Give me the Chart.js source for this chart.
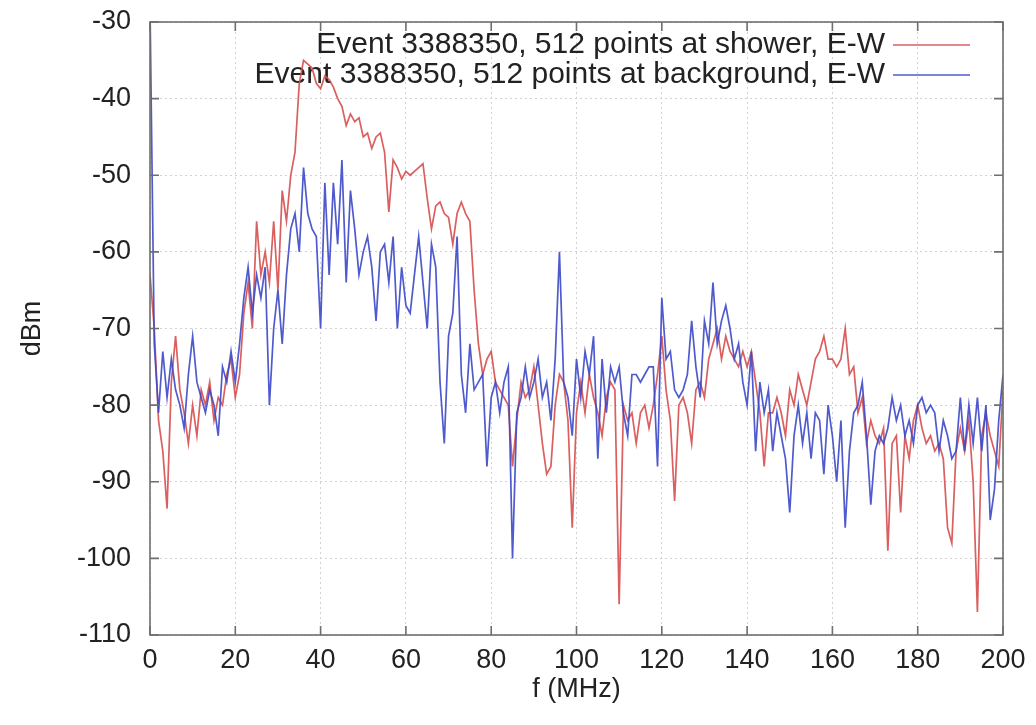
<!DOCTYPE html>
<html>
<head>
<meta charset="utf-8">
<title>Event 3388350 spectrum</title>
<script src="https://cdn.jsdelivr.net/npm/chart.js@4"></script>
<style>
  html, body { margin: 0; padding: 0; background: #fff; }
  #wrap { width: 1036px; height: 725px; }
</style>
</head>
<body>
<div id="wrap"><canvas id="spectrum" width="1036" height="725"></canvas></div>
<script>
// Spectrum of event 3388350, E-W polarisation, 1 MHz bins from 0 to 200 MHz.
const binMHz = 1;

const showerLabel = 'Event 3388350, 512 points at shower, E-W';
const backgroundLabel = 'Event 3388350, 512 points at background, E-W';

// dBm at shower time
const showerDbm = [
  -63, -70, -82, -86, -93.5, -77, -71, -78, -81, -85,
  -80, -84, -78, -80, -77, -82, -79, -80, -76, -74,
  -79, -76, -68, -64, -70, -56, -63, -60, -64, -56,
  -65, -52, -56, -50, -47, -38, -35, -35.5, -36, -38,
  -38.7, -37, -37.5, -38.5, -40, -41, -43.5, -42, -43, -42.5,
  -45, -44.5, -46.5, -45, -44.5, -47, -54.8, -48, -49, -50.5,
  -49.5, -50, -49.5, -49, -48.5, -53, -57, -54, -53.5, -55,
  -55.5, -59, -55, -53.5, -55, -56, -65, -72, -76, -74,
  -73, -77, -78, -79, -80, -88, -82, -77, -79, -78,
  -75, -80, -85, -89, -88, -80, -76, -77, -82, -96,
  -81, -77, -81, -76, -79, -81, -84, -79, -77, -78,
  -106, -80, -82, -81, -85, -81, -80, -83, -80, -76,
  -71, -78, -82, -92.5, -80, -79, -81, -85, -78, -77,
  -79, -74, -72, -70, -74, -71, -73, -74, -75, -73,
  -75, -73, -77, -81, -88, -81, -81, -79, -81, -84,
  -78, -80, -76, -78, -80, -77, -74, -73, -71, -74,
  -74, -75, -74, -70, -76, -75, -81, -79, -85, -82,
  -84, -85, -83, -99, -85, -84, -94, -84, -87, -82,
  -80, -83, -85, -84, -86, -85, -87, -96, -98, -86,
  -83, -86, -82, -90, -107, -84, -81, -84, -86, -88,
  -78
];

// dBm in the background window
const backgroundDbm = [
  -28, -72, -81, -73, -79, -74, -78, -80, -83, -76,
  -71, -77, -79, -81, -78, -80, -84, -75, -77, -73,
  -77, -72, -66, -62, -68, -63, -66, -62, -80, -70,
  -65, -72, -63, -57, -55, -60, -49, -55, -57, -58,
  -70, -51, -63, -51, -59, -48, -64, -52, -57, -63,
  -60, -58, -62, -69, -60, -59, -64, -58, -70, -62,
  -67, -68, -63, -58, -64, -70, -59, -62, -77, -85,
  -71, -68, -58, -76, -81, -72, -78, -77, -76, -88,
  -79, -77, -81, -77, -75, -100, -81, -79, -75, -79,
  -77, -74, -79, -77, -82, -74, -60, -77, -79, -84,
  -74, -79, -73, -76, -71, -87, -74, -81, -75, -77,
  -75, -81, -84, -76, -76, -77, -76, -75, -75, -88,
  -66, -74, -73, -78, -79, -78, -76, -69, -75, -79,
  -69, -72, -64, -72, -69, -67, -70, -74, -72, -77,
  -80, -73, -86, -77, -81, -78, -86, -81, -84, -87,
  -94, -84, -80, -85, -81, -87, -81, -82, -89, -80,
  -84, -90, -82, -96, -86, -81, -80, -77, -84, -93,
  -86, -84, -85, -83, -79, -82, -80, -84, -82, -85,
  -80, -79, -81, -80, -81, -86, -82, -84, -87, -86,
  -79, -86, -80, -85, -79, -86, -80, -95, -91, -82,
  -76
];

const xTicks = [0, 20, 40, 60, 80, 100, 120, 140, 160, 180, 200];
const yTicks = [-110, -100, -90, -80, -70, -60, -50, -40, -30];

const freqMHz = showerDbm.map((_, i) => i * binMHz);

const RED = 'rgba(214, 78, 78, 0.9)';
const BLUE = 'rgba(60, 72, 200, 0.9)';
const FONT = '"Liberation Sans", Arial, Helvetica, sans-serif';
const TEXT = '#222';

Chart.defaults.font.family = FONT;
Chart.defaults.color = TEXT;

function toPoints(values) {
    return values.map((v, i) => ({ x: freqMHz[i], y: v }));
}

// gnuplot-style box with inward tick marks on all four sides
const frame = {
    id: 'frame',
    afterDraw(chart) {
        const { ctx, chartArea: a, scales } = chart;
        const tick = 9;
        ctx.save();
        ctx.strokeStyle = '#6f6f6f';
        ctx.lineWidth = 1.6;
        ctx.strokeRect(a.left, a.top, a.right - a.left, a.bottom - a.top);
        ctx.beginPath();
        xTicks.forEach(t => {
            const x = scales.x.getPixelForValue(t);
            ctx.moveTo(x, a.bottom); ctx.lineTo(x, a.bottom - tick);
            ctx.moveTo(x, a.top); ctx.lineTo(x, a.top + tick);
        });
        yTicks.forEach(t => {
            const y = scales.y.getPixelForValue(t);
            ctx.moveTo(a.left, y); ctx.lineTo(a.left + tick, y);
            ctx.moveTo(a.right, y); ctx.lineTo(a.right - tick, y);
        });
        ctx.stroke();
        ctx.restore();
    }
};

// key in the top right corner: right-aligned text followed by a line sample
const key = {
    id: 'key',
    beforeDatasetsDraw(chart) {
        const { ctx } = chart;
        const textRight = 885, lineFrom = 893, lineTo = 970;
        const rows = [
            { text: showerLabel, color: RED, y: 45 },
            { text: backgroundLabel, color: BLUE, y: 75 },
        ];
        ctx.save();
        ctx.font = '30px ' + FONT;
        ctx.textAlign = 'right';
        ctx.textBaseline = 'middle';
        rows.forEach(r => {
            ctx.fillStyle = TEXT;
            ctx.fillText(r.text, textRight, r.y);
            ctx.strokeStyle = r.color;
            ctx.lineWidth = 1.6;
            ctx.beginPath();
            ctx.moveTo(lineFrom, r.y);
            ctx.lineTo(lineTo, r.y);
            ctx.stroke();
        });
        ctx.restore();
    }
};

new Chart(document.getElementById('spectrum'), {
    type: 'line',
    data: {
        datasets: [
            {
                label: showerLabel,
                data: toPoints(showerDbm),
                borderColor: RED,
                borderWidth: 1.7,
                pointRadius: 0,
                tension: 0,
                order: 1,
            },
            {
                label: backgroundLabel,
                data: toPoints(backgroundDbm),
                borderColor: BLUE,
                borderWidth: 1.7,
                pointRadius: 0,
                tension: 0,
                order: 0,
            },
        ],
    },
    options: {
        responsive: false,
        animation: false,
        layout: { padding: { left: 0, right: 33, top: 22, bottom: 0 } },
        plugins: {
            legend: { display: false },
            tooltip: { enabled: false },
        },
        scales: {
            x: {
                type: 'linear',
                min: 0,
                max: 200,
                afterFit: s => { s.height = 90; s.paddingLeft = 0; s.paddingRight = 0; },
                afterBuildTicks: s => { s.ticks = xTicks.map(v => ({ value: v })); },
                ticks: { font: { size: 27 }, padding: 9, maxRotation: 0, autoSkip: false },
                grid: { color: '#d2d2d2', lineWidth: 1, drawTicks: false },
                border: { display: false, dash: [2, 3] },
                title: { display: true, text: 'f (MHz)', font: { size: 27 }, padding: { bottom: 19 } },
            },
            y: {
                min: -110,
                max: -30,
                afterFit: s => { s.width = 150; s.paddingTop = 0; s.paddingBottom = 0; },
                afterBuildTicks: s => { s.ticks = yTicks.map(v => ({ value: v })); },
                ticks: { font: { size: 27 }, padding: 19 },
                grid: { color: '#d2d2d2', lineWidth: 1, drawTicks: false },
                border: { display: false, dash: [2, 3] },
                title: { display: true, text: 'dBm', font: { size: 27 }, padding: { top: 16 } },
            },
        },
    },
    plugins: [frame, key],
});
</script>
</body>
</html>
